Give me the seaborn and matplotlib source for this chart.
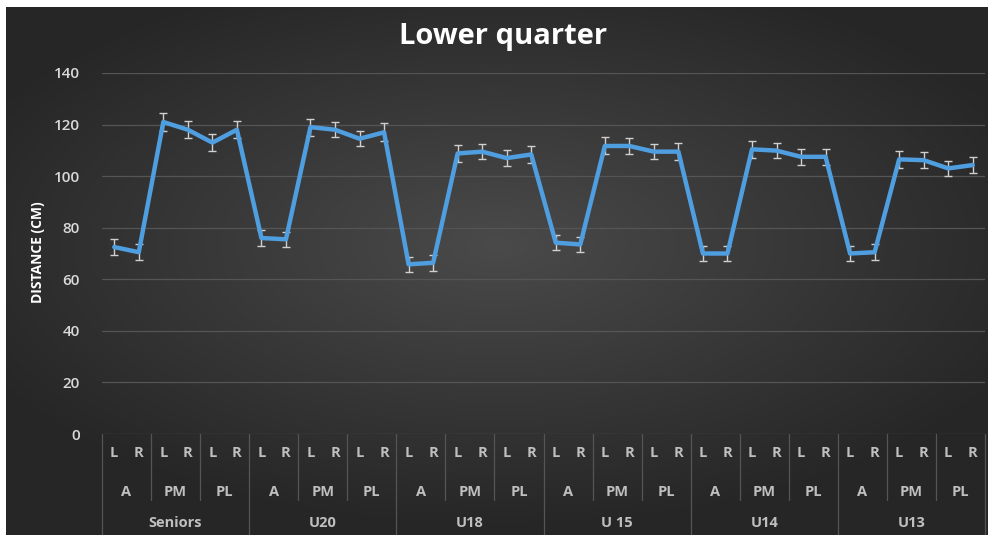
import numpy as np
import pandas as pd
import matplotlib.pyplot as plt
import matplotlib.transforms as mtransforms
import seaborn as sns

# 数据：每组 A / PM / PL，各分左右
groups = ['Seniors', 'U20', 'U18', 'U 15', 'U14', 'U13']
tests = ['A', 'PM', 'PL']
sides = ['L', 'R']

distance = [72.5, 70.5, 121, 118, 113, 118,
            76, 75.5, 119, 118, 114.5, 117,
            65.8, 66.4, 108.8, 109.5, 107, 108.4,
            74.2, 73.5, 111.7, 111.7, 109.5, 109.5,
            70, 70, 110.4, 109.9, 107.5, 107.5,
            70, 70.5, 106.5, 106.2, 103, 104.3]
error = [3.2, 3.0, 3.4, 3.3, 3.3, 3.2,
         3.0, 3.0, 3.3, 3.0, 3.0, 3.5,
         3.0, 3.0, 3.3, 3.0, 3.0, 3.2,
         3.0, 3.0, 3.3, 3.0, 3.0, 3.2,
         3.0, 3.0, 3.3, 3.0, 3.0, 3.2,
         3.0, 3.0, 3.3, 3.0, 3.0, 3.2]

rows = []
for g in groups:
    for t in tests:
        for s in sides:
            rows.append((g, t, s))
df = pd.DataFrame(rows, columns=['group', 'test', 'side'])
df['distance'] = distance
df['err'] = error
df['idx'] = range(len(df))

sns.set_style('dark')
plt.rcParams['font.family'] = ['Open Sans', 'DejaVu Sans']

fig = plt.figure(figsize=(9.9, 5.35), dpi=100)
fig.patch.set_facecolor('white')

# 背景：径向渐变
bg = fig.add_axes([6 / 990, 0, (988 - 6) / 990, (535 - 7) / 535])
yy, xx = np.mgrid[-1:1:300j, -1:1:500j]
r = np.sqrt((xx / 1.1) ** 2 + ((yy + 0.1) / 1.0) ** 2)
shade = np.clip(0.29 - 0.13 * r, 0.15, 0.29)
bg.imshow(np.dstack([shade, shade, shade]), aspect='auto', extent=[0, 1, 0, 1])
bg.set_axis_off()
bg.set_zorder(0)

ax = fig.add_axes([102 / 990, 1 - 434 / 535, (985 - 102) / 990, (434 - 73) / 535])
ax.set_zorder(1)
ax.set_facecolor('none')

ax.errorbar(df['idx'], df['distance'], yerr=df['err'], fmt='none',
            ecolor='#d0d0d0', elinewidth=1.0, capsize=3, capthick=1.0, zorder=2)
sns.lineplot(data=df, x='idx', y='distance', ax=ax, color='#4f9ee0',
             linewidth=3.2, zorder=3)

ax.set_xlim(-0.5, 35.5)
ax.set_ylim(0, 140)
ax.set_yticks(range(0, 141, 20))
ax.set_xticks([])
ax.grid(axis='y', color='#555555', linewidth=0.9)
ax.grid(axis='x', visible=False)
for sp in ax.spines.values():
    sp.set_visible(False)
ax.tick_params(axis='y', length=0, pad=16, labelsize=11, labelcolor='#d9d9d9')
for lab in ax.get_yticklabels():
    lab.set_fontweight('semibold')
ax.set_xlabel('')
ax.set_ylabel('')

# 多级类别标签
trans = mtransforms.blended_transform_factory(ax.transData, ax.transAxes)
lab_kw = dict(transform=trans, ha='center', va='center', color='#bfbfbf',
              fontsize=10.5, fontweight='bold', clip_on=False)
for i, row in df.iterrows():
    ax.text(row['idx'], -0.0526, row['side'], **lab_kw)
for k in range(len(groups) * len(tests)):
    ax.text(2 * k + 0.5, -0.1607, tests[k % 3], **lab_kw)
for k, g in enumerate(groups):
    ax.text(6 * k + 2.5, -0.2465, g, **lab_kw)

for k in range(len(groups) * len(tests) + 1):
    x = 2 * k - 0.5
    bottom = -0.29 if k % 3 == 0 else -0.183
    ax.plot([x, x], [0, bottom], transform=trans, color='#555555',
            linewidth=0.9, clip_on=False)

fig.text(503 / 990, 1 - 37 / 535, 'Lower quarter', ha='center', va='center',
         color='white', fontsize=21, fontweight='bold')
fig.text(38 / 990, 1 - 252 / 535, 'DISTANCE (CM)', rotation=90, ha='center',
         va='center', color='white', fontsize=10, fontweight='bold')

fig.savefig('out.png', dpi=100)
